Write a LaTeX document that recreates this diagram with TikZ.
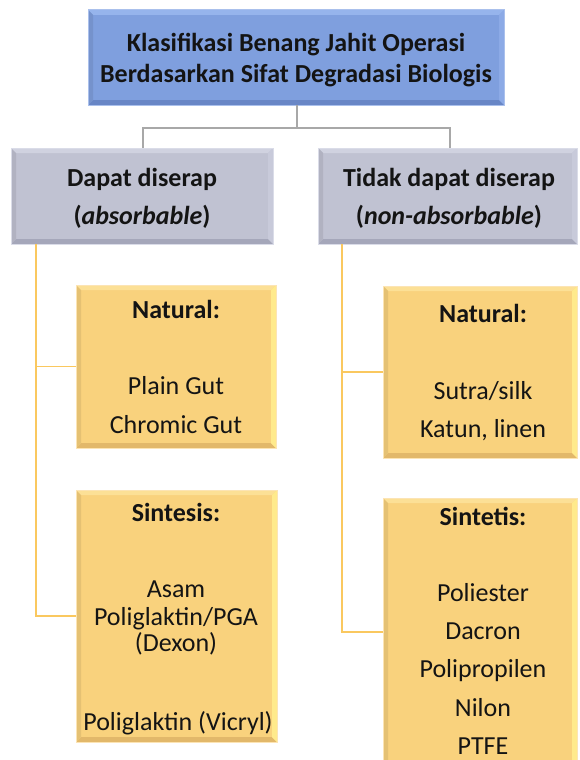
\documentclass[tikz,border=0pt]{standalone}
\usepackage{fontspec}
\setmainfont{Carlito}
\definecolor{blueF}{RGB}{127,159,222}
\definecolor{blueL}{RGB}{150,180,236}
\definecolor{blueD}{RGB}{104,134,198}
\definecolor{blueE}{RGB}{140,170,230}
\definecolor{blueB}{RGB}{170,192,236}
\definecolor{grayF}{RGB}{192,194,210}
\definecolor{grayL}{RGB}{208,210,224}
\definecolor{grayD}{RGB}{165,167,186}
\definecolor{grayE}{RGB}{200,202,218}
\definecolor{grayB}{RGB}{218,220,232}
\definecolor{oraF}{RGB}{249,210,125}
\definecolor{oraL}{RGB}{252,224,150}
\definecolor{oraD}{RGB}{226,184,106}
\definecolor{oraE}{RGB}{255,234,140}
\definecolor{oraB}{RGB}{252,228,180}
\definecolor{lineG}{RGB}{168,168,168}
\definecolor{lineO}{RGB}{250,200,95}
\newcommand\bevbox[9]{%
  \pgfmathsetmacro\bw{#4-#2}\pgfmathsetmacro\bh{#5-#3}%
  \node[boxbase, fill=#6, minimum width=\bw pt, minimum height=\bh pt, anchor=north west] (#1) at (#2,#3) {};
  \fill[#7] (#2,#3) -- (#4,#3) -- ({#4-5},{#3+5}) -- ({#2+5},{#3+5}) -- cycle;
  \fill[#8] (#2,#5) -- (#4,#5) -- ({#4-5},{#5-5}) -- ({#2+5},{#5-5}) -- cycle;
  \fill[#9] (#4,#3) -- (#4,#5) -- ({#4-5},{#5-5}) -- ({#4-5},{#3+5}) -- cycle;
  \fill[#6!92!black] (#2,#3) -- (#2,#5) -- ({#2+5},{#5-5}) -- ({#2+5},{#3+5}) -- cycle;
}
\tikzset{
  boxbase/.style={draw=none, inner sep=0pt, outer sep=0pt},
  txt/.style={font=\fontsize{26}{30}\selectfont, inner sep=0pt, anchor=base, text=black!92},
  conG/.style={draw=lineG, line width=1.3pt},
  conO/.style={draw=lineO, line width=1.3pt}
}
\begin{document}
\begin{tikzpicture}[x=1pt,y=-1pt]
\useasboundingbox (0,0) rectangle (579,760);
\clip (0,0) rectangle (579,760);
\fill[white] (0,0) rectangle (579,760);
% boxes
\bevbox{top}{88}{10}{504}{105}{blueF}{blueL}{blueD}{blueE}
\draw[blueB, line width=1pt] (top.north west) rectangle (top.south east);
\bevbox{L}{11}{148}{273}{244}{grayF}{grayL}{grayD}{grayE}
\draw[grayB, line width=1pt] (L.north west) rectangle (L.south east);
\bevbox{R}{318}{148}{577}{244}{grayF}{grayL}{grayD}{grayE}
\draw[grayB, line width=1pt] (R.north west) rectangle (R.south east);
\bevbox{LN}{76}{285}{276}{448}{oraF}{oraL}{oraD}{oraE}
\draw[oraB, line width=1pt] (LN.north west) rectangle (LN.south east);
\bevbox{LS}{76}{490}{277}{742}{oraF}{oraL}{oraD}{oraE}
\draw[oraB, line width=1pt] (LS.north west) rectangle (LS.south east);
\bevbox{RN}{383}{286}{577}{458}{oraF}{oraL}{oraD}{oraE}
\draw[oraB, line width=1pt] (RN.north west) rectangle (RN.south east);
\bevbox{RS}{383}{498}{577}{766}{oraF}{oraL}{oraD}{oraE}
\draw[oraB, line width=1pt] (RS.north west) rectangle (RS.south east);
% connectors
\coordinate (bus) at (297,128);
\draw[conG] (top.south -| bus) -- (bus);
\draw[conG] (bus) -| (143,148) coordinate (Ltop);
\draw[conG] (bus) -| (450,148) coordinate (Rtop);
\coordinate (lt) at (36,244);
\coordinate (rt) at (342,244);
\draw[conO] (lt) |- (LN.west);
\draw[conO] (lt) |- (LS.west);
\draw[conO] (rt) |- (RN.west);
\draw[conO] (rt) |- (RS.west);
% texts
\node[txt] (t1) at (296,52) {\bfseries Klasifikasi Benang Jahit Operasi};
\node[txt] (t2) at (296,82) {\bfseries Berdasarkan Sifat Degradasi Biologis};
\node[txt] (l1) at (142,186) {\bfseries Dapat diserap};
\node[txt] (l2) at (142,224) {\bfseries (\textit{absorbable})};
\node[txt] (r1) at (449,186) {\bfseries Tidak dapat diserap};
\node[txt] (r2) at (449,224) {\bfseries (\textit{non-absorbable})};
\node[txt] (ln1) at (176,318) {\bfseries Natural:};
\node[txt] (ln2) at (176,394) {Plain Gut};
\node[txt] (ln3) at (176,433) {Chromic Gut};
\node[txt] (rn1) at (483,322) {\bfseries Natural:};
\node[txt] (rn2) at (483,399) {Sutra/silk};
\node[txt] (rn3) at (483,437) {Katun, linen};
\node[txt] (ls1) at (176,521) {\bfseries Sintesis:};
\node[txt] (ls2) at (176,597) {Asam};
\node[txt] (ls3) at (176,625) {Poliglaktin/PGA};
\node[txt] (ls4) at (176,651) {(Dexon)};
\node[txt] (ls5) at (178,730) {Poliglaktin (Vicryl)};
\node[txt] (rs1) at (483,525) {\bfseries Sintetis:};
\node[txt] (rs2) at (483,601) {Poliester};
\node[txt] (rs3) at (483,639) {Dacron};
\node[txt] (rs4) at (483,677) {Polipropilen};
\node[txt] (rs5) at (483,716) {Nilon};
\node[txt] (rs6) at (483,754) {PTFE};
\end{tikzpicture}
\end{document}
